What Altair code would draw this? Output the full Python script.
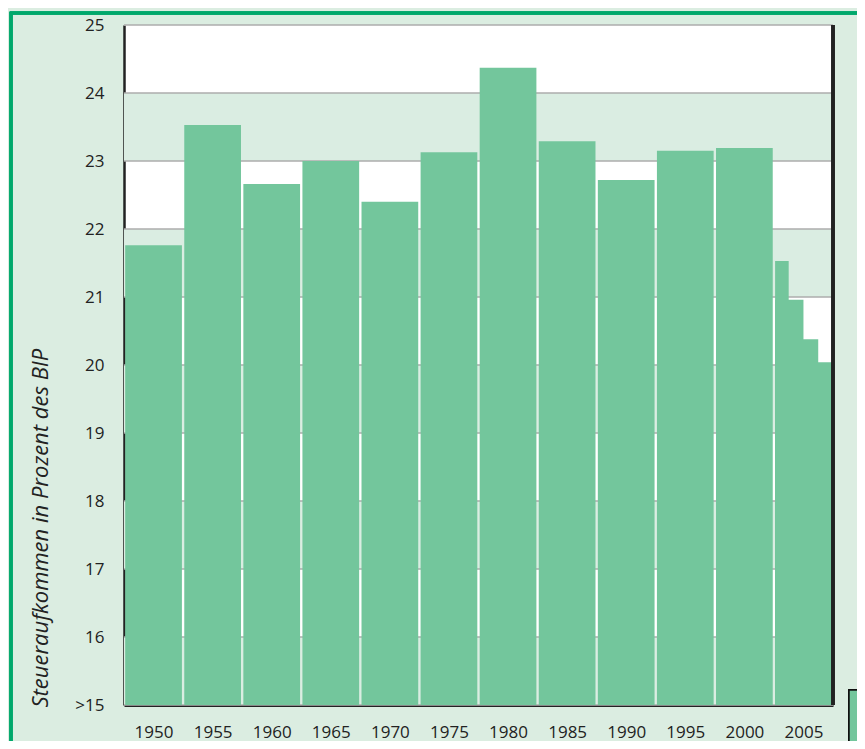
import altair as alt
import pandas as pd

# ---- data ----
five_year = [1950, 1955, 1960, 1965, 1970, 1975, 1980, 1985, 1990, 1995, 2000]
five_year_values = [21.76, 23.53, 22.66, 23.00, 22.40, 23.13, 24.37, 23.29, 22.72, 23.15, 23.19]
recent_years = [2005, 2006, 2007, 2008]
recent_values = [21.53, 20.96, 20.38, 20.04]
x_tick_labels = [1950, 1955, 1960, 1965, 1970, 1975, 1980, 1985, 1990, 1995, 2000, 2005]
y_ticks = [15, 16, 17, 18, 19, 20, 21, 22, 23, 24, 25]
y_title = "Steueraufkommen in Prozent des BIP"

# ---- style ----
BAR = "#73c69c"
BAND = "#daede2"
BG = "#dbede1"
GRID = "#adadad"
AXIS = "#222222"
FRAME = "#00a86b"
FONT = "Open Sans"
GAP = 0.2  # gap between 5-year bars, in years

rows = []
for yr, v in zip(five_year, five_year_values):
    rows.append({"year": yr, "start": yr - 2.5 + GAP / 2, "end": yr + 2.5 - GAP / 2, "value": v})
narrow = 5 / len(recent_years)
first = five_year[-1] + 2.5
group_end = first + 5
# recent bars form a descending staircase: each one is drawn from the group start
# to its own end, so adjacent narrow bars have no seams between them
for i, (yr, v) in enumerate(zip(recent_years, recent_values)):
    rows.append({"year": yr, "start": first + GAP / 2, "end": first + (i + 1) * narrow, "value": v})
bars_df = pd.DataFrame(rows)

xmin, xmax = five_year[0] - 2.5, group_end
ymin, ymax = y_ticks[0], y_ticks[-1]

x_scale = alt.Scale(domain=[xmin, xmax], nice=False, zero=False)
y_scale = alt.Scale(domain=[ymin, ymax], nice=False, zero=False)

bands_df = pd.DataFrame({"lo": [t for t in y_ticks[:-1] if (ymax - t) % 2 == 0]})
bands_df["hi"] = bands_df["lo"] + 1

bands = alt.Chart(bands_df).mark_rect(color=BAND).encode(
    y=alt.Y("lo:Q", scale=y_scale, title=y_title,
            axis=alt.Axis(values=y_ticks, format="d", ticks=False, grid=False,
                          domainColor=AXIS, domainWidth=2.5,
                          labelExpr="datum.value == 15 ? '>15' : datum.label",
                          labelFont=FONT, labelFontSize=17, labelColor=AXIS,
                          labelPadding=20,
                          titleFont=FONT, titleFontSize=22, titleFontStyle="italic",
                          titleFontWeight="normal", titleColor=AXIS,
                          titleAngle=270, titleAlign="left", titleBaseline="middle",
                          titleX=-84, titleY=682)),
    y2="hi:Q",
)

grid_df = pd.DataFrame({"v": y_ticks})
grid = alt.Chart(grid_df).mark_rule(color=GRID, strokeWidth=1.5).encode(
    y=alt.Y("v:Q", scale=y_scale)
)

bars = alt.Chart(bars_df).mark_rect(color=BAR).encode(
    x=alt.X("start:Q", scale=x_scale, title=None,
            axis=alt.Axis(values=x_tick_labels, format="d", ticks=False, grid=False,
                          domainColor=AXIS, domainWidth=3,
                          labelFont=FONT, labelFontSize=17, labelColor=AXIS,
                          labelBaseline="alphabetic", labelPadding=32)),
    x2="end:Q",
    y=alt.Y("value:Q", scale=y_scale),
    y2=alt.datum(ymin),
)

right_line = alt.Chart(grid_df).mark_rule(color=AXIS, strokeWidth=2.5).encode(
    x=alt.datum(xmax, scale=x_scale),
    y=alt.datum(ymin),
    y2=alt.datum(ymax),
)

frame = alt.Chart(grid_df).mark_rect(fill=None, stroke=FRAME, strokeWidth=2.5, clip=False).encode(
    x=alt.value(-113), x2=alt.value(740), y=alt.value(-12), y2=alt.value(760)
)

corner = alt.Chart(grid_df).mark_rect(fill=BAR, stroke="#111111", strokeWidth=1.5, clip=False).encode(
    x=alt.value(725), x2=alt.value(760), y=alt.value(665), y2=alt.value(760)
)

chart = alt.layer(frame, bands, grid, bars, right_line, corner).properties(
    width=709, height=680,
    autosize=alt.AutoSizeParams(type="none"),
    padding={"left": 116, "top": 17, "right": 24, "bottom": 36},
    background=BG,
).configure_view(fill="white", stroke=None)

chart.save("out.html", embed_options={"renderer": "svg", "actions": False})
